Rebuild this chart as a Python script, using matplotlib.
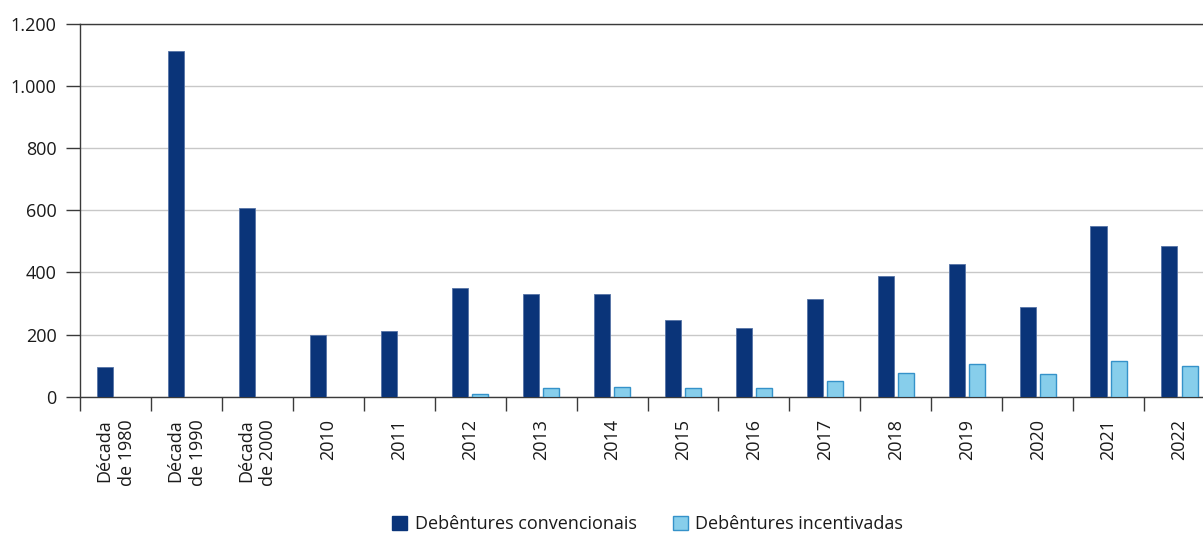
import matplotlib
matplotlib.use("Agg")
import matplotlib.pyplot as plt
import numpy as np
from matplotlib.patches import Patch
from matplotlib.ticker import FuncFormatter

categories = ["Década\nde 1980", "Década\nde 1990", "Década\nde 2000", "2010", "2011",
              "2012", "2013", "2014", "2015", "2016", "2017", "2018", "2019", "2020",
              "2021", "2022"]
convencionais = [95, 1112, 606, 198, 212, 349, 330, 331, 246, 221, 314, 390, 428, 288, 551, 484]
incentivadas = [0, 0, 0, 0, 0, 9, 27, 30, 27, 28, 50, 77, 104, 72, 116, 98]
series_names = ["Debêntures convencionais", "Debêntures incentivadas"]
yticks = [0, 200, 400, 600, 800, 1000, 1200]

plt.rcParams['font.family'] = ['Open Sans', 'DejaVu Sans']

W, H = 1203, 534
fig = plt.figure(figsize=(W / 100, H / 100), dpi=100)
left, right, top, bottom = 80, 1215, 24, 396.7
ax = fig.add_axes([left / W, 1 - bottom / H, (right - left) / W, (bottom - top) / H])

dark = "#0a3479"
light = "#87ceeb"
x = np.arange(len(categories))
bw = 0.226
off = 0.1425
ax.bar(x - off, convencionais, bw, color=dark, edgecolor="#5673a6", linewidth=0.6, zorder=3)
ax.bar(x[5:] + off, incentivadas[5:], bw, color=light, edgecolor="#3592c9", linewidth=1.0, zorder=3)

ax.set_xlim(-0.5, len(categories) - 0.5)
ax.set_ylim(0, 1200)
ax.set_yticks(yticks)
ax.yaxis.set_major_formatter(FuncFormatter(lambda v, p: f"{int(v):,}".replace(",", ".")))
ax.grid(axis="y", color="#c8c8c8", linewidth=1.0, zorder=0)
ax.set_axisbelow(True)

for s in ["left", "bottom", "top"]:
    ax.spines[s].set_color("#3a3a3a")
    ax.spines[s].set_linewidth(1.0)
ax.spines["right"].set_visible(False)

ax.tick_params(axis="y", length=10, width=1, color="#3a3a3a", pad=7, labelsize=13, labelcolor="#1a1a1a")
ax.set_xticks(x)
ax.set_xticklabels(categories, rotation=90, fontsize=13, color="#1a1a1a", va="top", ha="center",
                   multialignment="right", linespacing=1.3)
ax.tick_params(axis="x", which="major", length=0, pad=16)
ax.set_xticks(np.arange(len(categories) + 1) - 0.5, minor=True)
ax.tick_params(axis="x", which="minor", length=10, width=1, color="#3a3a3a")

handles = [Patch(facecolor=dark, edgecolor=dark, label=series_names[0]),
           Patch(facecolor=light, edgecolor="#3592c9", label=series_names[1])]
fig.legend(handles=handles, loc="center", bbox_to_anchor=(((left + right) / 2) / W, 1 - 524 / H),
           ncol=2, frameon=False, fontsize=13, handlelength=0.85, handleheight=0.85,
           handletextpad=0.4, columnspacing=2.0, labelcolor="#1a1a1a")

fig.savefig("out.png", dpi=100)
